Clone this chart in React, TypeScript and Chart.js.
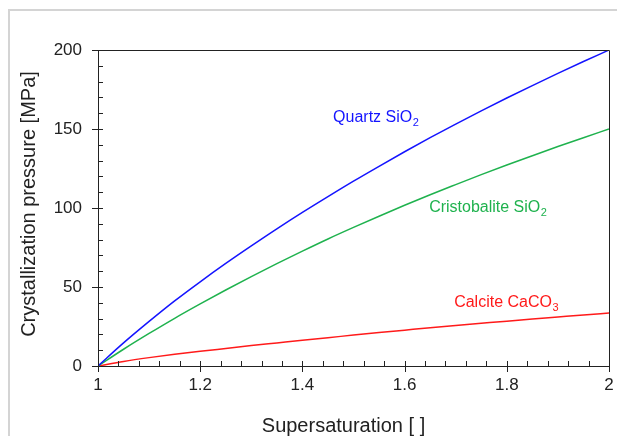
import React, { useEffect, useRef } from "react";
import { Chart, registerables } from "chart.js";

Chart.register(...registerables);

const supersaturation = [1.0, 1.05, 1.1, 1.15, 1.2, 1.25, 1.3, 1.35, 1.4, 1.45, 1.5, 1.55, 1.6, 1.65, 1.7, 1.75, 1.8, 1.85, 1.9, 1.95, 2.0];
const quartz = [0, 14.6, 28.2, 41.2, 53.3, 64.9, 76.0, 86.8, 97.2, 107.2, 117.0, 126.4, 135.6, 144.5, 153.1, 161.5, 169.6, 177.5, 185.2, 192.7, 200];
const cristobalite = [0, 10.6, 20.6, 30.2, 39.3, 48.1, 56.6, 64.8, 72.7, 80.4, 87.7, 94.8, 101.7, 108.4, 114.8, 121.1, 127.2, 133.1, 138.9, 144.5, 150];
const calcite = [0, 2.9, 5.3, 7.4, 9.3, 11.1, 12.9, 14.6, 16.3, 17.9, 19.6, 21.2, 22.7, 24.2, 25.6, 27.0, 28.4, 29.7, 31.0, 32.3, 33.5];

const seriesNames = ["Quartz SiO2", "Cristobalite SiO2", "Calcite CaCO3"];
const labelMain = ["Quartz SiO", "Cristobalite SiO", "Calcite CaCO"];
const labelSub = ["2", "2", "3"];
const labelX = [1.46, 1.648, 1.697];
const labelY = [154.4, 97.5, 37.3];
const colors = ["#1414ff", "#1fb24e", "#ff1a1a"];

const xTitle = "Supersaturation [ ]";
const yTitle = "Crystallization pressure [MPa]";

const FONT = "'Liberation Sans', Arial, sans-serif";

const customPlugin = {
  id: "custom",
  beforeDraw(chart: any) {
    const ctx = chart.ctx;
    ctx.save();
    ctx.fillStyle = "#ffffff";
    ctx.fillRect(0, 0, chart.width, chart.height);
    ctx.strokeStyle = "#d4d4d4";
    ctx.lineWidth = 2;
    ctx.beginPath();
    ctx.moveTo(9, chart.height);
    ctx.lineTo(9, 10);
    ctx.lineTo(chart.width, 10);
    ctx.stroke();
    ctx.restore();
  },
  afterDraw(chart: any) {
    const ctx = chart.ctx;
    const { left, right, top, bottom } = chart.chartArea;
    const xs = chart.scales.x;
    const ys = chart.scales.y;
    ctx.save();
    ctx.strokeStyle = "#222222";
    ctx.lineWidth = 1;
    ctx.beginPath();
    ctx.rect(Math.round(left) + 0.5, Math.round(top) + 0.5, Math.round(right - left), Math.round(bottom - top));
    ctx.stroke();
    ctx.beginPath();
    for (let v = 0; v <= 200.001; v += 10) {
      const y = Math.round(ys.getPixelForValue(v)) + 0.5;
      const major = Math.abs(v % 50) < 0.001;
      ctx.moveTo(major ? left - 6 : left, y);
      ctx.lineTo(left + 5, y);
    }
    for (let i = 0; i <= 25; i++) {
      const v = 1 + i * 0.04;
      const x = Math.round(xs.getPixelForValue(v)) + 0.5;
      const major = i % 5 === 0;
      ctx.moveTo(x, major ? bottom + 6 : bottom);
      ctx.lineTo(x, bottom - 5);
    }
    ctx.stroke();

    // series labels
    for (let i = 0; i < labelMain.length; i++) {
      const px = xs.getPixelForValue(labelX[i]);
      const py = ys.getPixelForValue(labelY[i]);
      ctx.fillStyle = colors[i];
      ctx.font = `16px ${FONT}`;
      ctx.textBaseline = "alphabetic";
      ctx.textAlign = "left";
      ctx.fillText(labelMain[i], px, py);
      const w = ctx.measureText(labelMain[i]).width;
      ctx.font = `11px ${FONT}`;
      ctx.fillText(labelSub[i], px + w + 0.5, py + 4);
    }

    // axis titles
    ctx.fillStyle = "#222222";
    ctx.font = `20px ${FONT}`;
    ctx.textAlign = "center";
    ctx.textBaseline = "alphabetic";
    ctx.fillText(xTitle, (left + right) / 2 - 10, 432);
    ctx.save();
    ctx.translate(35, (top + bottom) / 2 - 4);
    ctx.rotate(-Math.PI / 2);
    ctx.fillText(yTitle, 0, 0);
    ctx.restore();
    ctx.restore();
  },
};

export default function App() {
  const ref = useRef<HTMLCanvasElement | null>(null);
  useEffect(() => {
    if (!ref.current) return;
    const mk = (vals: number[]) => supersaturation.map((x, i) => ({ x, y: vals[i] }));
    const chart = new Chart(ref.current, {
      type: "line",
      data: {
        datasets: [quartz, cristobalite, calcite].map((vals, i) => ({
          label: seriesNames[i],
          data: mk(vals),
          borderColor: colors[i],
          borderWidth: 1.5,
          pointRadius: 0,
          fill: false,
          cubicInterpolationMode: "monotone" as const,
        })),
      },
      options: {
        responsive: false,
        animation: false,
        layout: { padding: { top: 50, right: 8, left: 0, bottom: 0 } },
        plugins: { legend: { display: false }, tooltip: { enabled: false } },
        scales: {
          x: {
            type: "linear",
            min: 1,
            max: 2,
            grid: { display: false, drawTicks: false },
            border: { display: false },
            ticks: {
              stepSize: 0.2,
              padding: 9,
              color: "#222222",
              font: { family: FONT, size: 17 },
              maxRotation: 0,
              callback: (v: any) => String(Math.round(Number(v) * 10) / 10),
            },
            afterFit: (s: any) => { s.height = 70; s.paddingRight = 0; s.paddingLeft = 0; },
          },
          y: {
            min: 0,
            max: 200,
            grid: { display: false, drawTicks: false },
            border: { display: false },
            ticks: {
              stepSize: 50,
              padding: 16,
              color: "#222222",
              font: { family: FONT, size: 17 },
            },
            afterFit: (s: any) => { s.width = 98; s.paddingTop = 0; s.paddingBottom = 0; },
          },
        },
      },
      plugins: [customPlugin],
    });
    return () => chart.destroy();
  }, []);
  return (
    <div style={{ position: "fixed", left: 0, top: 0, width: 617, height: 436, background: "#fff" }}>
      <canvas ref={ref} width={617} height={436} style={{ display: "block" }} />
    </div>
  );
}
